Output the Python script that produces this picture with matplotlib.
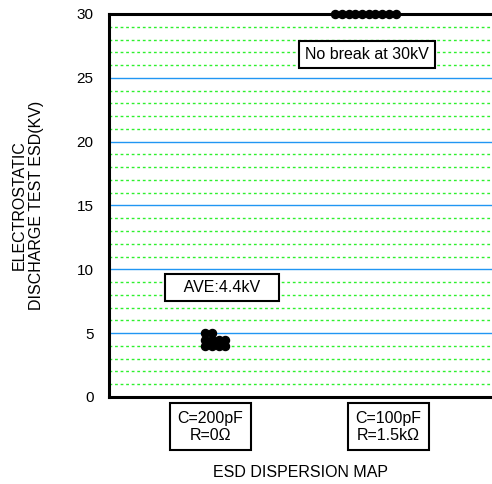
import matplotlib.pyplot as plt
from collections import Counter

plt.rcParams['font.family'] = ['Liberation Sans', 'DejaVu Sans']

# ESD breakdown voltages (kV) for each test condition
conditions = ["C=200pF\nR=0Ω", "C=100pF\nR=1.5kΩ"]
esd_200pF = [5, 5, 4.5, 4.5, 4.5, 4.5, 4, 4, 4, 4]
esd_100pF = [30, 30, 30, 30, 30, 30, 30, 30, 30, 30]
groups = [esd_200pF, esd_100pF]
y_ticks = [0, 5, 10, 15, 20, 25, 30]

FS = 11.5

fig = plt.figure(figsize=(4.92, 4.84), dpi=100)
ax = fig.add_axes([0.2215, 0.1798, 0.7785, 0.7913])

dot_start = [0.96, 1.69]   # left edge of each dot pile
dot_step = 0.0376

for start, vals in zip(dot_start, groups):
    xs, ys = [], []
    seen = Counter()
    for v in vals:
        xs.append(start + seen[v] * dot_step)
        ys.append(v)
        seen[v] += 1
    ax.plot(xs, ys, 'o', color='black', markersize=5.8, linestyle='none',
            zorder=5, clip_on=False)

ax.set_xlim(0.42, 2.57)
ax.set_ylim(0, 30)
ax.set_yticks(y_ticks)
ax.set_yticks(range(0, 31), minor=True)
ax.set_xticks([])
ax.tick_params(axis='y', which='both', length=0, pad=11, labelsize=11)
ax.grid(which='major', axis='y', color='#2196f3', linewidth=1, linestyle='-')
ax.grid(which='minor', axis='y', color='#2ef02e', linewidth=1, linestyle=(0, (2, 2)))

for s in ['left', 'bottom', 'top']:
    ax.spines[s].set_linewidth(2.2)
    ax.spines[s].set_zorder(4)
ax.spines['right'].set_visible(False)

box = dict(boxstyle='square,pad=0.38', facecolor='white', edgecolor='black', linewidth=1.5)
ax.text(1.87, 26.8, "No break at 30kV", ha='center', va='center', fontsize=FS,
        bbox=box, zorder=6)
ax.text(1.055, 8.6, "   AVE:4.4kV   ", ha='center', va='center', fontsize=FS,
        bbox=box, zorder=6)

trans = ax.get_xaxis_transform()
cat_box = dict(boxstyle='square,pad=0.45', facecolor='white', edgecolor='black', linewidth=1.5)
for x, lab in zip([0.99, 1.99], conditions):
    ax.text(x, -0.078, lab, transform=trans, ha='center', va='center', fontsize=FS,
            bbox=cat_box, linespacing=1.2)

ax.text(0.5, -0.196, "ESD DISPERSION MAP", transform=ax.transAxes,
        ha='center', va='center', fontsize=FS)
ax.text(-0.2115, 0.5, "ELECTROSTATIC\nDISCHARGE TEST ESD(KV)", transform=ax.transAxes,
        ha='center', va='center', rotation=90, fontsize=FS, linespacing=1.2)

fig.savefig("out.png", dpi=100)
